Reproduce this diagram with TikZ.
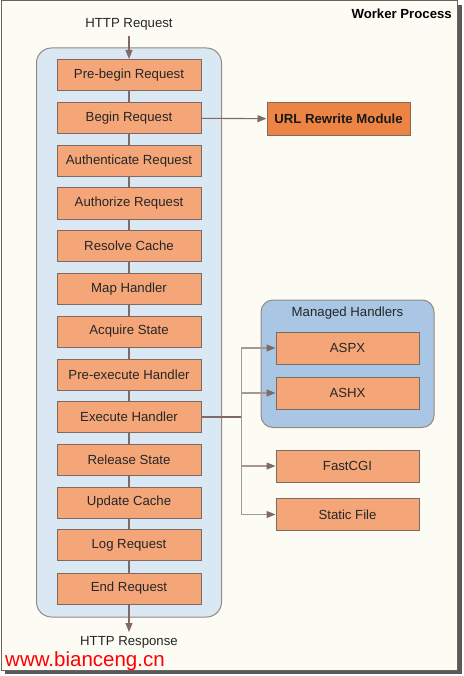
\documentclass[tikz,border=0pt]{standalone}
\usepackage{fontspec}
\setmainfont{Liberation Sans}
\usepackage{xcolor}
\usetikzlibrary{arrows.meta}
\definecolor{framecream}{HTML}{FCFCF4}
\definecolor{frameline}{HTML}{6E625C}
\definecolor{stagefill}{HTML}{F5A679}
\definecolor{stageline}{HTML}{7D6A62}
\definecolor{urlfill}{HTML}{EE8444}
\definecolor{pipefill}{HTML}{DAE8F4}
\definecolor{handlerfill}{HTML}{A9C6E4}
\definecolor{linkline}{HTML}{7F6B65}
\tikzset{
stagebox/.style={rectangle, draw=stageline, fill=stagefill, line width=1pt, inner sep=0pt, minimum width=144pt, minimum height=31pt, text=black!85, font=\fontsize{13.2}{15}\selectfont},
handlerbox/.style={rectangle, draw=stageline, fill=stagefill, line width=1pt, inner sep=0pt, minimum width=143pt, minimum height=32pt, text=black!85, font=\fontsize{13.2}{15}\selectfont},
urlbox/.style={rectangle, draw=stageline, fill=urlfill, line width=1pt, inner sep=0pt, minimum width=143pt, minimum height=33pt, text=black!90, font=\fontsize{13.2}{15}\selectfont\bfseries},
plaintext/.style={inner sep=0pt, text=black!85, font=\fontsize{13.2}{15}\selectfont},
link/.style={draw=linkline, line width=1.1pt},
arrowlink/.style={link, -{Triangle[length=9pt,width=7pt,color=linkline]}},
}

\begin{document}
\begin{tikzpicture}[x=1pt,y=-1pt]
    \useasboundingbox (0,0) rectangle (463,676);
    % frame with shadow
    \fill[black!65] (5,5) rectangle (462,674);
    \draw[fill=framecream, draw=frameline, line width=1pt] (1,1) rectangle (457.5,670);
    \node[plaintext, anchor=east, font=\fontsize{13.2}{15}\selectfont\bfseries, text=black] at (452,13.5) (worker) {Worker Process};

    % pipeline container
    \draw[fill=pipefill, draw=stageline!80, line width=1pt, rounded corners=15pt] (36.5,48) rectangle (221.5,617);

    \node[plaintext] at (129,24) (request) {HTTP Request};
    \node[stagebox] at (129,75) (s1) {Pre-begin Request};
    \node[stagebox] at (129,118) (s2) {Begin Request};
    \node[stagebox] at (129,161) (s3) {Authenticate Request};
    \node[stagebox] at (129,203.5) (s4) {Authorize Request};
    \node[stagebox] at (129,246) (s5) {Resolve Cache};
    \node[stagebox] at (129,289) (s6) {Map Handler};
    \node[stagebox] at (129,331.5) (s7) {Acquire State};
    \node[stagebox] at (129,374.5) (s8) {Pre-execute Handler};
    \node[stagebox] at (129,417) (s9) {Execute Handler};
    \node[stagebox] at (129,460) (s10) {Release State};
    \node[stagebox] at (129,502.5) (s11) {Update Cache};
    \node[stagebox] at (129,545) (s12) {Log Request};
    \node[stagebox] at (129,588.5) (s13) {End Request};
    \node[plaintext] at (129,642.5) (response) {HTTP Response};
    \coordinate (reqend) at (129,36);
    \coordinate (respend) at (129,632);

    \draw[arrowlink] (reqend) to (s1);
    \draw[link] (s1) -- (s2);
    \draw[link] (s2) -- (s3);
    \draw[link] (s3) -- (s4);
    \draw[link] (s4) -- (s5);
    \draw[link] (s5) -- (s6);
    \draw[link] (s6) -- (s7);
    \draw[link] (s7) -- (s8);
    \draw[link] (s8) -- (s9);
    \draw[link] (s9) -- (s10);
    \draw[link] (s10) -- (s11);
    \draw[link] (s11) -- (s12);
    \draw[link] (s12) -- (s13);
    \draw[arrowlink] (s13) to (respend);

    % url rewrite
    \node[urlbox] at (338.5,119) (url) {URL Rewrite Module};
    \draw[arrowlink] (s2) to (url);

    % handlers
    \draw[fill=handlerfill, draw=stageline!80, line width=1pt, rounded corners=12pt] (261,300) rectangle (434,427.5);
    \node[plaintext] at (347.5,313) (managed) {Managed Handlers};
    \node[handlerbox] at (347.5,348) (aspx) {ASPX};
    \node[handlerbox] at (347.5,393) (ashx) {ASHX};
    \node[handlerbox] at (347.5,466) (fastcgi) {FastCGI};
    \node[handlerbox] at (347.5,514.5) (static) {Static File};
    \coordinate (branch) at (241.5,417);

    \draw[link] (s9.east) -- (branch);
    \draw[arrowlink, draw=linkline!70] (branch) |- (aspx);
    \draw[arrowlink, draw=linkline!70] (branch) |- (ashx);
    \draw[arrowlink, draw=linkline!70] (branch) |- (fastcgi);
    \draw[arrowlink, draw=linkline!70] (branch) |- (static);

    \node[plaintext, anchor=west, text=red, font=\fontsize{20.5}{22}\selectfont] at (5,661.5) (site) {www.bianceng.cn};
\end{tikzpicture}
\end{document}
